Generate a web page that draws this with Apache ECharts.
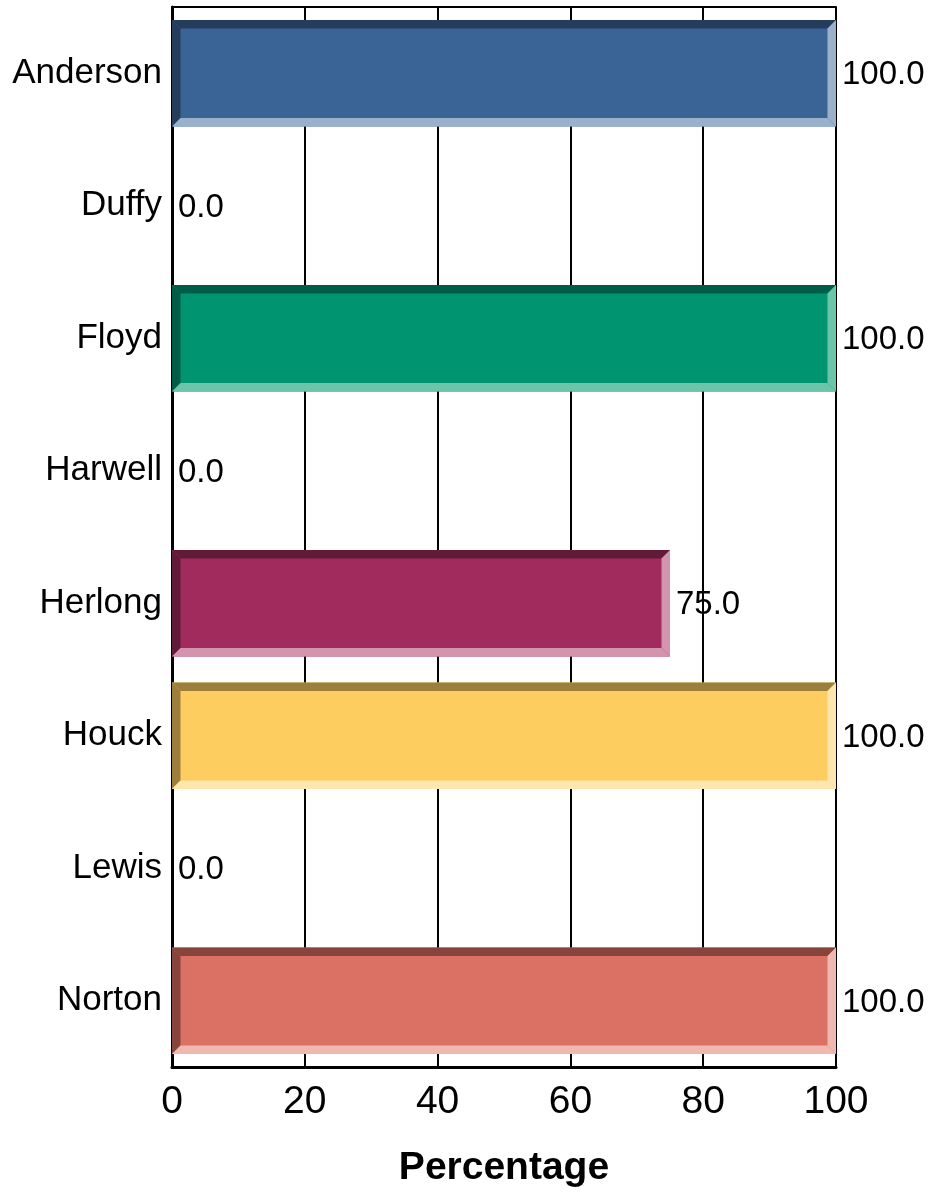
<!DOCTYPE html>
<html>
<head>
<meta charset="utf-8">
<script src="https://cdn.jsdelivr.net/npm/echarts@6/dist/echarts.min.js"></script>
<style>
html,body{margin:0;padding:0;background:#fff;}
#main{width:930px;height:1193px;}
</style>
</head>
<body>
<div id="main"></div>
<script>
const categories = ['Anderson','Duffy','Floyd','Harwell','Herlong','Houck','Lewis','Norton'];
const values = [100, 0, 100, 0, 75, 100, 0, 100];
const xTicks = [0, 20, 40, 60, 80, 100];
const mainColors  = ['#3b6496','#7f7f7f','#009471','#7f7f7f','#a22b5e','#fdcd60','#7f7f7f','#db7064'];
const darkColors  = ['#243d5c','#4d4d4d','#005c46','#4d4d4d','#611a38','#9c7f3a','#4d4d4d','#86443c'];
const lightColors = ['#9bb1cb','#bfbfbf','#6cc4a9','#bfbfbf','#d394ae','#fee6ae','#bfbfbf','#efb8b1'];

const FONT = '"Liberation Sans", Arial, sans-serif';
const chart = echarts.init(document.getElementById('main'), null, {renderer:'canvas'});

function renderItem(params, api){
  const val = api.value(0);
  const cat = api.value(1);
  const idx = params.dataIndex;
  const p0 = api.coord([0, cat]);
  const p1 = api.coord([val, cat]);
  const band = api.size([0, 1])[1];
  const h = band * 0.805;
  const x0 = p0[0], x1 = p1[0];
  const y0 = p0[1] - h/2, y1 = p0[1] + h/2;
  const children = [];
  if (x1 - x0 > 0.5) {
    const b = Math.min(8.5, (x1 - x0)/2);
    children.push({type:'rect', shape:{x:x0, y:y0, width:x1-x0, height:h}, style:{fill:mainColors[idx]}});
    children.push({type:'polygon', shape:{points:[[x0,y0],[x1,y0],[x1-b,y0+b],[x0+b,y0+b]]}, style:{fill:darkColors[idx]}});
    children.push({type:'polygon', shape:{points:[[x0,y0],[x0+b,y0+b],[x0+b,y1-b],[x0,y1]]}, style:{fill:darkColors[idx]}});
    children.push({type:'polygon', shape:{points:[[x0,y1],[x0+b,y1-b],[x1-b,y1-b],[x1,y1]]}, style:{fill:lightColors[idx]}});
    children.push({type:'polygon', shape:{points:[[x1,y0],[x1,y1],[x1-b,y1-b],[x1-b,y0+b]]}, style:{fill:lightColors[idx]}});
  }
  children.push({type:'text', style:{x:x1+6, y:p0[1]+2, text:val.toFixed(1), fill:'#000', font:'33px ' + FONT, verticalAlign:'middle', align:'left'}});
  return {type:'group', children:children};
}

chart.setOption({
  animation:false,
  backgroundColor:'#fff',
  grid:{left:172, right:94, top:7, bottom:124, containLabel:false},
  xAxis:[{
    type:'value', min:0, max:100, interval:20, position:'bottom',
    name:'Percentage', nameLocation:'middle', nameGap:82,
    nameTextStyle:{fontFamily:FONT, fontSize:39, fontWeight:'bold', color:'#000'},
    axisLine:{show:true, onZero:false, lineStyle:{color:'#000', width:3}},
    axisTick:{show:false},
    axisLabel:{fontFamily:FONT, fontSize:39, color:'#000', margin:16,
      formatter:function(v){ return xTicks.indexOf(v) >= 0 ? String(v) : ''; }},
    splitLine:{show:true, lineStyle:{color:'#000', width:2}}
  },{
    type:'value', min:0, max:100, interval:20, position:'top',
    axisLine:{show:true, onZero:false, lineStyle:{color:'#000', width:2}},
    axisTick:{show:false}, axisLabel:{show:false}, splitLine:{show:false}
  }],
  yAxis:{
    type:'category', data:categories, inverse:true,
    axisLine:{show:true, lineStyle:{color:'#000', width:3}},
    axisTick:{show:false},
    axisLabel:{fontFamily:FONT, fontSize:35, color:'#000', margin:10, padding:[5,0,0,0]},
    splitLine:{show:false}
  },
  series:[{
    type:'custom',
    renderItem:renderItem,
    encode:{x:0, y:1},
    data: values.map((v,i)=>[v,i]),
    z:3
  }]
});
</script>
</body>
</html>
